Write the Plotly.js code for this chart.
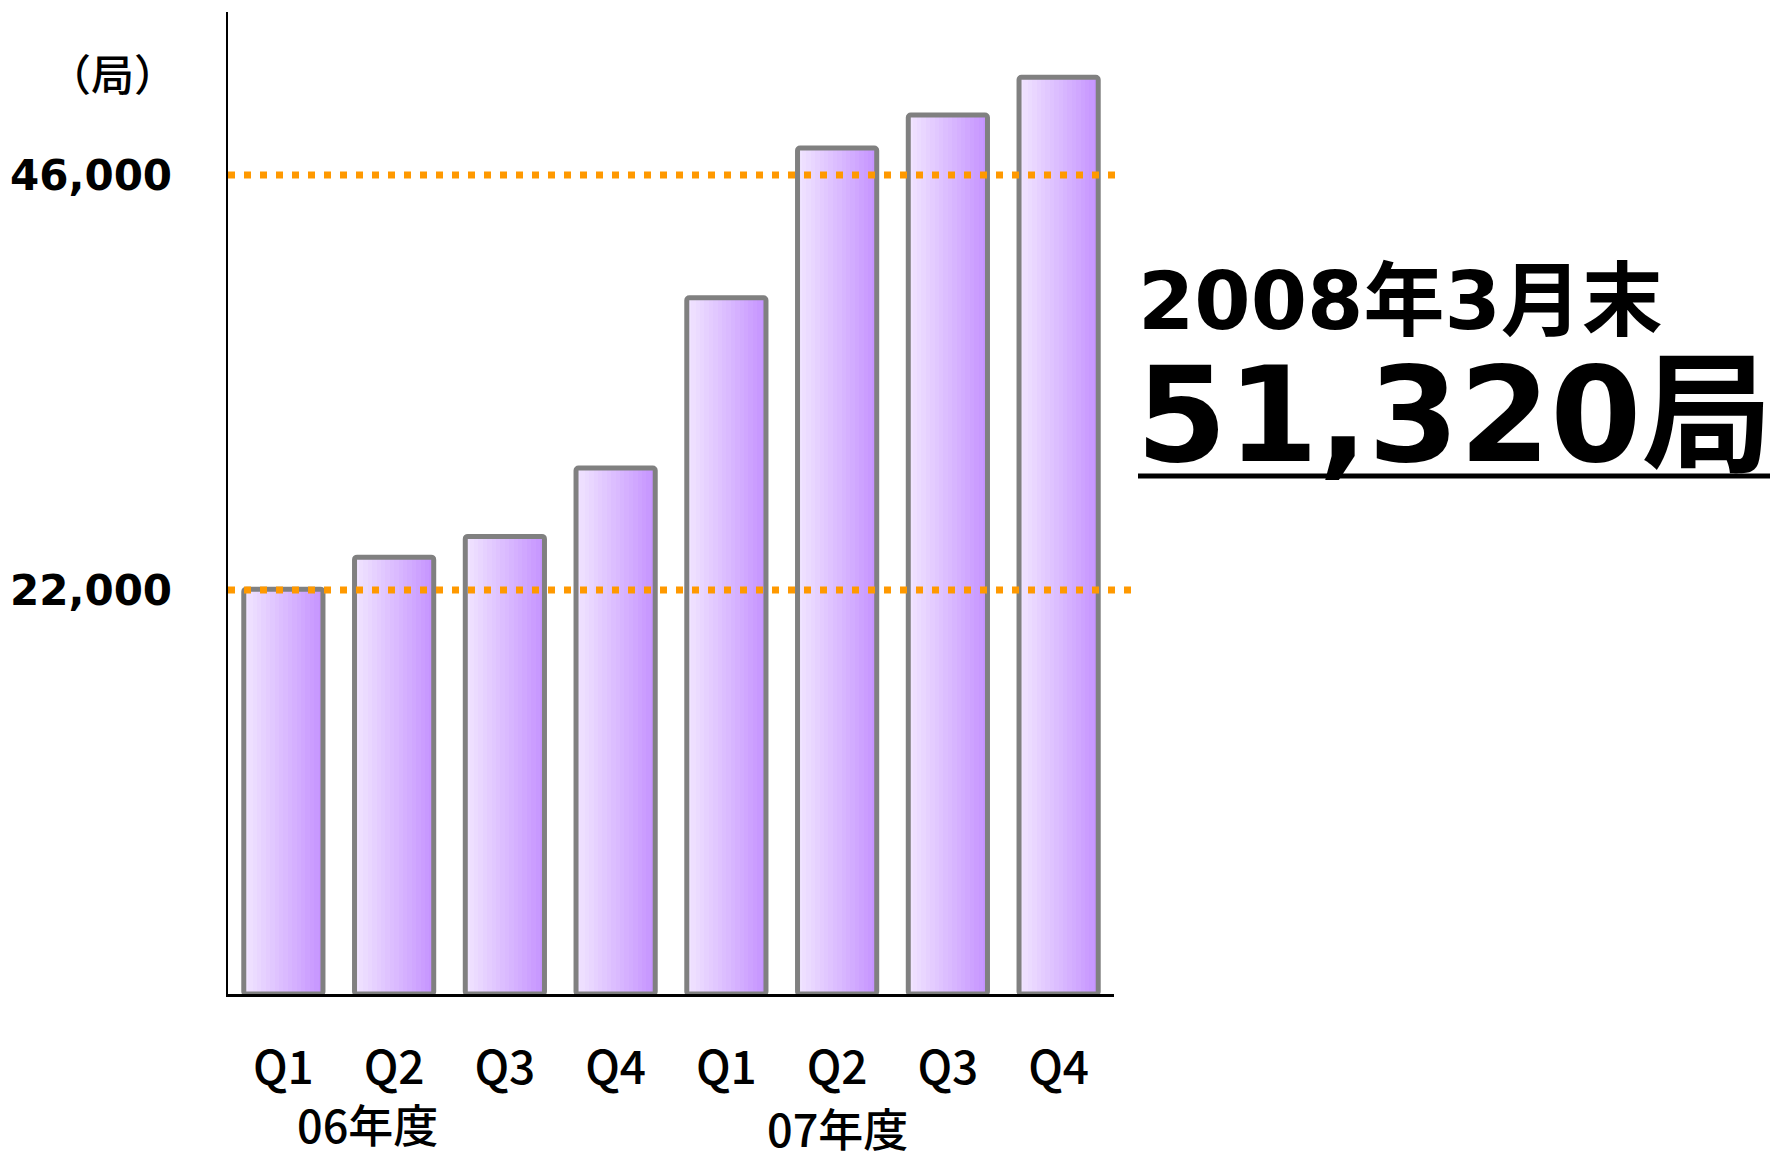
<!DOCTYPE html>
<html>
<head>
<meta charset="utf-8">
<script src="https://cdn.plot.ly/plotly-3.0.1.min.js"></script>
<style>html,body{margin:0;padding:0;background:#fff;}#chart{width:1776px;height:1151px;}</style>
</head>
<body>
<div id="chart"></div>
<script>
// ---- data ----
const quarters = ['Q1', 'Q2', 'Q3', 'Q4', 'Q1', 'Q2', 'Q3', 'Q4'];
const fiscalYears = ['06年度', '07年度'];
const stations = [22050, 23900, 25100, 29050, 38900, 47560, 49470, 51650];
const refLines = [22000, 46000];
const refLineLabels = ['22,000', '46,000'];
const unitLabel = '（局）';
const headline = '2008年3月末';
const headlineValue = '51,320局';

// ---- styling ----
const Y_MIN = -1363, Y_MAX = 55426;
const BAR_W = 0.715;
const N_STRIPS = 18;
const C0 = [240, 228, 255], C1 = [198, 148, 255];
const xIdx = quarters.map((_, i) => i);
const heights = stations.map(v => v - Y_MIN);

const traces = [];
const sw = BAR_W / N_STRIPS;
for (let i = 0; i < N_STRIPS; i++) {
  const t = i / (N_STRIPS - 1);
  const c = C0.map((a, k) => Math.round(a + (C1[k] - a) * t));
  traces.push({
    type: 'bar', x: xIdx, y: heights, base: Y_MIN,
    width: sw * 1.08, offset: -BAR_W / 2 + i * sw,
    marker: {color: `rgb(${c[0]},${c[1]},${c[2]})`, line: {width: 0}},
    hoverinfo: 'skip', showlegend: false
  });
}
traces.push({
  type: 'bar', x: xIdx, y: heights, base: Y_MIN,
  width: BAR_W, offset: -BAR_W / 2,
  marker: {color: 'rgba(0,0,0,0)', line: {color: '#808080', width: 5}, cornerradius: 3},
  text: stations.map(v => v.toLocaleString('en-US')),
  textposition: 'none',
  hovertemplate: '%{text}<extra></extra>', showlegend: false
});

const L = 228, R = 1114, T = 12, B = 994;
const px = v => (v - L) / (R - L);
const py = v => (B - v) / (B - T);

const shapes = refLines.map((v, i) => ({
  type: 'line', xref: 'paper', yref: 'y',
  x0: 0, x1: i === 0 ? px(1133) : px(1121), y0: v, y1: v,
  line: {color: '#FF9900', width: 7, dash: '7px,9px'}, layer: 'above'
}));
shapes.push({
  type: 'line', xref: 'paper', yref: 'paper',
  x0: px(1138), x1: px(1770), y0: py(476), y1: py(476),
  line: {color: '#000', width: 5}
});

const cjk = '"Noto Sans CJK JP", "Noto Sans", sans-serif';
const wide = '"DejaVu Sans", "Noto Sans CJK JP", sans-serif';

const annotations = [
  {xref: 'paper', yref: 'paper', x: px(113), y: py(72), xanchor: 'center', yanchor: 'middle',
   text: unitLabel, showarrow: false, font: {family: cjk, size: 43, weight: 500, color: '#000'}},
  {xref: 'x', yref: 'paper', x: 0.76, y: py(1123), xanchor: 'center', yanchor: 'middle',
   text: fiscalYears[0], showarrow: false, font: {family: cjk, size: 45, weight: 500, color: '#000'}},
  {xref: 'x', yref: 'paper', x: 5.0, y: py(1127), xanchor: 'center', yanchor: 'middle',
   text: fiscalYears[1], showarrow: false, font: {family: cjk, size: 45, weight: 500, color: '#000'}},
  {xref: 'paper', yref: 'paper', x: px(1136), y: py(301), xanchor: 'left', yanchor: 'middle',
   text: headline, showarrow: false, font: {family: wide, size: 81, weight: 700, color: '#000'}},
  {xref: 'paper', yref: 'paper', x: px(1134), y: py(415), xanchor: 'left', yanchor: 'middle',
   text: headlineValue, showarrow: false, font: {family: wide, size: 131, weight: 700, color: '#000'}}
];

const layout = {
  width: 1776, height: 1151,
  margin: {l: L, r: 1776 - R, t: T, b: 1151 - B, pad: 0},
  paper_bgcolor: '#fff', plot_bgcolor: '#fff',
  barmode: 'overlay', bargap: 0,
  showlegend: false,
  xaxis: {
    range: [-0.5, 7.5], tickmode: 'array', tickvals: xIdx, ticktext: quarters,
    showline: true, linecolor: '#000', linewidth: 2.5, showgrid: false, zeroline: false,
    ticks: '', ticklabelstandoff: 32,
    tickfont: {family: cjk, size: 46, weight: 500, color: '#000'}, fixedrange: true
  },
  yaxis: {
    range: [Y_MIN, Y_MAX], tickmode: 'array', tickvals: refLines, ticktext: refLineLabels,
    showline: true, linecolor: '#000', linewidth: 2.5, showgrid: false, zeroline: false,
    ticks: '', ticklabelstandoff: 45,
    tickfont: {family: '"DejaVu Sans", sans-serif', size: 42, weight: 700, color: '#000'}, fixedrange: true
  },
  shapes: shapes,
  annotations: annotations
};

Plotly.newPlot('chart', traces, layout, {displayModeBar: false, staticPlot: true});
</script>
</body>
</html>
